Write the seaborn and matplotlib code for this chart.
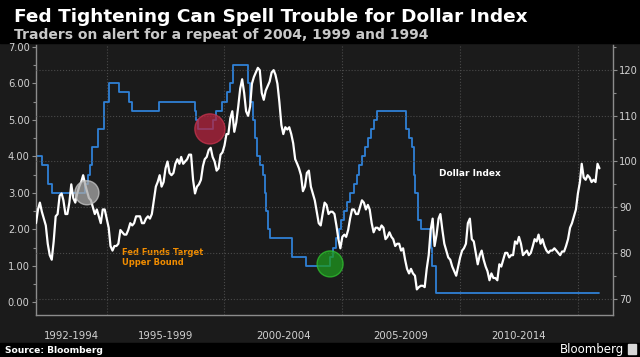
import pandas as pd
import matplotlib
matplotlib.use('Agg')
import matplotlib.pyplot as plt
import matplotlib.dates as mdates
import matplotlib.ticker as mticker
import matplotlib.transforms as mtransforms
from matplotlib.patches import Rectangle
import seaborn as sns

# Dollar index, monthly values Jan 1992 - Dec 2015
dxy_1992_1999 = [
    86.5, 89.5, 91, 89, 87.5, 86, 82, 79.5, 78.5, 82.5, 88, 88.5,
    92.5, 93, 91.5, 88.5, 88.5, 91, 95, 92, 91, 93, 94.5, 95.5,
    97, 95, 93.5, 92, 91.5, 90, 88.5, 89.5, 88, 86.5, 89.5, 89.5,
    87.5, 85.5, 81.5, 80.5, 81.5, 81.5, 82, 85, 84.5, 84, 84, 85,
    86.5, 86, 86.5, 88, 88, 88, 86.5, 86.5, 87.5, 88, 87.5, 88.5,
    91.5, 94.5, 95.5, 97, 94.5, 95.5, 98.5, 100, 97.5, 97, 97.5, 99.5,
    100.5, 99.5, 101, 99.5, 100, 100.5, 101.5, 101.5, 96, 93, 94.5, 95,
    96, 99, 100.5, 101, 102.5, 103, 101, 100, 98, 98.5, 101.5, 102,
]
dxy_2000_2009 = [
    103.5, 106, 106, 109.5, 111, 106.5, 108.5, 112, 116, 118, 115, 111,
    110, 112, 117, 118.5, 119.5, 120.5, 120, 115, 113.5, 115.5, 116.5, 117.5,
    119.5, 120, 119, 117, 113, 108, 106, 107.5, 107, 107.5, 106, 104,
    100.5, 99.5, 98.5, 97, 93.5, 94.5, 97.5, 98, 94.5, 93, 91.5, 89,
    86.5, 86, 88.5, 91, 90.5, 88.5, 89, 89, 88.5, 86, 83, 81,
    83.5, 84, 83.5, 85, 87.5, 89.5, 89.5, 88.5, 88.5, 90, 91.5, 91,
    89.5, 90.5, 89.5, 86.5, 84.5, 85.5, 85.5, 85, 86, 85.5, 83, 83.5,
    84.5, 83.5, 83, 81.5, 82, 82, 80.5, 81, 78.5, 76.5, 75.5, 76.5,
    75.5, 75, 72, 72.5, 72.8, 72.8, 72.5, 76.5, 79.5, 85, 87.5, 81.5,
    84, 87.5, 88.5, 85, 82, 80.5, 79, 78.5, 77, 76, 75, 77,
]
dxy_2010_2015 = [
    79, 80.5, 81, 82, 86.5, 87.5, 83, 82.5, 80, 77.5, 79.5, 80.5,
    78.5, 77, 76, 74, 75.5, 74.5, 74.5, 74, 77.5, 77, 78.5, 80,
    80, 79, 79.5, 79.5, 82.5, 82, 83.5, 82, 79.5, 80, 80.5, 79.5,
    80, 81.5, 83, 82.5, 84, 82, 83, 81.5, 80.5, 80, 80.5, 80.5,
    81, 80.5, 80, 79.5, 80.3, 80.3, 81.5, 83, 85.5, 86.5, 88, 89.5,
    93, 95.5, 99.5, 96.5, 96, 97, 96.5, 95.5, 96, 95.5, 99.5, 98.5,
]

# Fed funds target upper bound: change dates and new levels
fed_dates = [
    '1992-01-01', '1992-04-09', '1992-07-02', '1992-09-04',
    '1994-02-04', '1994-03-22', '1994-04-18', '1994-05-17', '1994-08-16', '1994-11-15',
    '1995-02-01', '1995-07-06', '1995-12-19', '1996-01-31', '1997-03-25',
    '1998-09-29', '1998-10-15', '1998-11-17', '1999-06-30', '1999-08-24', '1999-11-16',
    '2000-02-02', '2000-03-21', '2000-05-16',
    '2001-01-03', '2001-01-31', '2001-03-20', '2001-04-18', '2001-05-15', '2001-06-27',
    '2001-08-21', '2001-09-17', '2001-10-02', '2001-11-06', '2001-12-11',
    '2002-11-06', '2003-06-25',
    '2004-06-30', '2004-08-10', '2004-09-21', '2004-11-10', '2004-12-14',
    '2005-02-02', '2005-03-22', '2005-05-03', '2005-06-30', '2005-08-09', '2005-09-20',
    '2005-11-01', '2005-12-13', '2006-01-31', '2006-03-28', '2006-05-10', '2006-06-29',
    '2007-09-18', '2007-10-31', '2007-12-11',
    '2008-01-22', '2008-01-30', '2008-03-18', '2008-04-30', '2008-10-08', '2008-10-29',
    '2008-12-16', '2015-12-01',
]
fed_rates = [
    4.00, 3.75, 3.25, 3.00,
    3.25, 3.50, 3.75, 4.25, 4.75, 5.50,
    6.00, 5.75, 5.50, 5.25, 5.50,
    5.25, 5.00, 4.75, 5.00, 5.25, 5.50,
    5.75, 6.00, 6.50,
    6.00, 5.50, 5.00, 4.50, 4.00, 3.75,
    3.50, 3.00, 2.50, 2.00, 1.75,
    1.25, 1.00,
    1.25, 1.50, 1.75, 2.00, 2.25,
    2.50, 2.75, 3.00, 3.25, 3.50, 3.75,
    4.00, 4.25, 4.50, 4.75, 5.00, 5.25,
    4.75, 4.50, 4.25,
    3.50, 3.00, 2.25, 2.00, 1.50, 1.00,
    0.25, 0.25,
]

# highlight circles (on the fed funds scale)
circle_dates = ['1994-02-28', '1999-05-20', '2004-06-25']
circle_levels = [3.0, 4.75, 1.05]
circle_faces = ['#a8a8a8', '#b4243e', '#1f9a1f']
circle_edges = ['#c8c8c8', '#c8344e', '#2fbf2f']
circle_sizes = [300, 470, 350]

period_labels = ['1992-1994', '1995-1999', '2000-2004', '2005-2009', '2010-2014']
period_mids = ['1993-07-01', '1997-07-01', '2002-07-01', '2007-07-01', '2012-07-01']
period_edges = ['1995-01-01', '2000-01-01', '2005-01-01', '2010-01-01', '2015-01-01']

BG = '#1b1b1b'
BLUE = '#2f80d6'
GRID = '#4a4a4a'
SPINE = '#8c8c8c'
TXT = '#d2d2d2'

sns.set_style('dark', {'axes.facecolor': BG, 'figure.facecolor': BG})
plt.rcParams['font.family'] = ['DejaVu Sans']

dxy = dxy_1992_1999 + dxy_2000_2009 + dxy_2010_2015
dxy_dates = pd.date_range('1992-01-01', periods=len(dxy), freq='MS')
fed_x = pd.to_datetime(fed_dates)

fig = plt.figure(figsize=(6.4, 3.57), dpi=100, facecolor=BG)
fig.add_artist(Rectangle((0, 1 - 43 / 357), 1, 43 / 357, transform=fig.transFigure,
                         color='black', zorder=0))
fig.add_artist(Rectangle((0, 0), 1, 14 / 357, transform=fig.transFigure,
                         color='black', zorder=0))

ax = fig.add_axes([36 / 640, 42 / 357, 577 / 640, 270 / 357])
ax.set_facecolor(BG)
ax2 = ax.twinx()

sns.lineplot(x=fed_x, y=fed_rates, ax=ax, color=BLUE, lw=1.3, drawstyle='steps-post')
sns.lineplot(x=dxy_dates, y=dxy, ax=ax2, color='white', lw=1.6, zorder=3)

ax2.scatter(pd.to_datetime(circle_dates).map(mdates.date2num), circle_levels,
            s=circle_sizes, c=circle_faces, edgecolors=circle_edges, linewidths=1,
            alpha=0.75, transform=ax.transData, zorder=4)

ax.set_xlim(pd.Timestamp('1992-01-01'), pd.Timestamp('2016-06-28'))
ax.set_ylim(-0.35, 7.05)
ax2.set_ylim(66.4, 125.5)
ax.set_xlabel('')
ax.set_ylabel('')
ax2.set_ylabel('')

# left axis
ax.yaxis.set_major_locator(mticker.MultipleLocator(1))
ax.yaxis.set_minor_locator(mticker.MultipleLocator(0.5))
ax.yaxis.set_major_formatter(mticker.FormatStrFormatter('%.2f'))
# right axis
ax2.yaxis.set_major_locator(mticker.MultipleLocator(10))
ax2.yaxis.set_minor_locator(mticker.MultipleLocator(5))

# x axis: separators at 5 year boundaries, small ticks every year
ax.xaxis.set_major_locator(mticker.FixedLocator(mdates.date2num(pd.to_datetime(period_edges))))
ax.xaxis.set_minor_locator(mdates.YearLocator(1))
ax.xaxis.set_major_formatter(mticker.NullFormatter())
ax.tick_params(axis='x', which='major', length=20, width=1, color='#555555', direction='out')
ax.tick_params(axis='x', which='minor', length=2, width=0.8, color=SPINE, direction='out')
ax.tick_params(axis='y', which='major', length=3, width=0.8, color=SPINE, labelsize=7.1,
               labelcolor=TXT, pad=1.5, left=True)
ax.tick_params(axis='y', which='minor', length=2, width=0.8, color=SPINE, left=True)
ax2.tick_params(axis='y', which='major', length=3, width=0.8, color=SPINE, labelsize=7.1,
                labelcolor=TXT, pad=1.5, right=True)
ax2.tick_params(axis='y', which='minor', length=2, width=0.8, color=SPINE, right=True)

ax.grid(axis='x', which='major', ls=':', color=GRID, lw=0.8)
ax.grid(axis='y', visible=False)
ax2.grid(axis='y', which='major', ls=':', color=GRID, lw=0.8)
ax2.grid(axis='x', visible=False)

for s in ['top', 'right']:
    ax.spines[s].set_visible(False)
for s in ['left', 'bottom']:
    ax.spines[s].set_color(SPINE)
    ax.spines[s].set_linewidth(1)
for s in ['top', 'left', 'bottom']:
    ax2.spines[s].set_visible(False)
ax2.spines['right'].set_color(SPINE)
ax2.spines['right'].set_linewidth(1)

trans = mtransforms.blended_transform_factory(ax.transData, ax.transAxes)
for lab, mid in zip(period_labels, period_mids):
    ax.text(pd.Timestamp(mid), -0.078, lab, transform=trans, ha='center', va='center',
            fontsize=7.3, color=TXT)

ax.text(pd.Timestamp('1995-08-20'), 1.35, 'Fed Funds Target', color='#f08c00',
        fontsize=6, fontweight='bold', va='center', ha='left')
ax.text(pd.Timestamp('1995-08-20'), 1.08, 'Upper Bound', color='#f08c00',
        fontsize=6, fontweight='bold', va='center', ha='left')
ax.text(pd.Timestamp('2009-02-01'), 3.52, 'Dollar Index', color='white',
        fontsize=6.5, fontweight='bold', va='center', ha='left')

fig.text(14 / 640, 1 - 17 / 357, 'Fed Tightening Can Spell Trouble for Dollar Index',
         color='white', fontsize=13.3, fontweight='bold', va='center', ha='left')
fig.text(14 / 640, 1 - 35 / 357, 'Traders on alert for a repeat of 2004, 1999 and 1994',
         color='#c8c8c8', fontsize=10, fontweight='bold', va='center', ha='left')
fig.text(5 / 640, 1 - 350.5 / 357, 'Source: Bloomberg', color='white', fontsize=6.6,
         fontweight='bold', va='center', ha='left')
fig.text(624 / 640, 1 - 349.5 / 357, 'Bloomberg', color='white', fontsize=8.5,
         va='center', ha='right')
fig.add_artist(Rectangle((628 / 640, 3 / 357), 8 / 640, 10 / 357, transform=fig.transFigure,
                         color='#d8d8d8', zorder=2))

fig.savefig('out.png', dpi=100, facecolor=fig.get_facecolor())
